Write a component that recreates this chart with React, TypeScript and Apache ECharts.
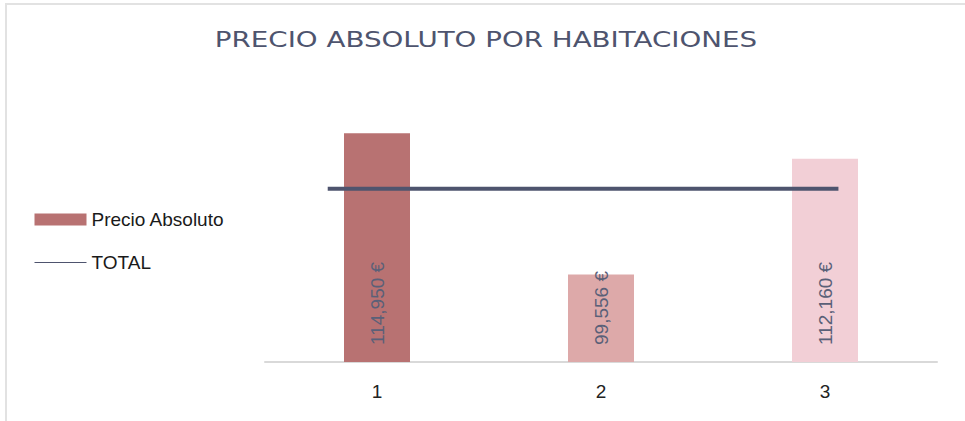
import React, { useEffect, useRef } from "react";
import * as echarts from "echarts";

const categories = ["1", "2", "3"];
const precioValues = [114950, 99556, 112160];
const barColors = ["#B87272", "#DDA9A9", "#F2CFD6"];
const totalValue = 108889;
const totalSpan = [0.28, 2.56];
const titleText = "PRECIO ABSOLUTO POR HABITACIONES";

const SANS = "'Liberation Sans', Arial, sans-serif";

export default function App() {
  const ref = useRef<HTMLDivElement>(null);
  useEffect(() => {
    if (!ref.current) return;
    const chart = echarts.init(ref.current, undefined, { renderer: "svg" });
    const fmt = (v: number) => v.toLocaleString("en-US") + " €";
    chart.setOption({
      animation: false,
      backgroundColor: "#ffffff",
      graphic: [
        {
          type: "text",
          x: 486,
          y: 40,
          scaleX: 1.26,
          style: {
            text: titleText,
            font: "normal 22px 'DejaVu Sans', sans-serif",
            fill: "#4E546E",
            textAlign: "center",
            textVerticalAlign: "middle",
          },
        },
      ],
      legend: {
        orient: "vertical",
        left: 34,
        top: 210,
        padding: 0,
        itemWidth: 52,
        itemHeight: 12,
        itemGap: 24,
        textStyle: { fontFamily: SANS, fontSize: 19, color: "#1a1a1a" },
        lineStyle: { width: 1, color: "#4E546E" },
        data: [
          { name: "Precio Absoluto", icon: "rect", itemStyle: { color: barColors[0] } },
          { name: "TOTAL", itemStyle: { opacity: 0 } },
        ],
      },
      grid: { left: 265, right: 28, top: 87, bottom: 59 },
      xAxis: [
        {
          type: "category",
          data: categories,
          axisLine: { lineStyle: { color: "#D9D9D9", width: 2 } },
          axisTick: { show: false },
          axisLabel: { fontFamily: SANS, fontSize: 19, color: "#222", margin: 20 },
        },
        { type: "value", min: 0, max: 3, show: false },
      ],
      yAxis: {
        type: "value",
        min: 90000,
        max: 120000,
        show: false,
        splitLine: { show: false },
      },
      series: [
        {
          name: "Precio Absoluto",
          type: "bar",
          barWidth: 66,
          data: precioValues.map((v, i) => ({ value: v, itemStyle: { color: barColors[i] } })),
          itemStyle: { color: barColors[0] },
          label: {
            show: true,
            position: "insideBottom",
            rotate: 90,
            align: "left",
            verticalAlign: "middle",
            distance: 17,
            fontFamily: SANS,
            fontSize: 19,
            color: "#5A6078",
            formatter: (p: any) => fmt(p.value),
          },
          z: 2,
        },
        {
          name: "TOTAL",
          type: "line",
          xAxisIndex: 1,
          symbol: "none",
          lineStyle: { color: "#4E546E", width: 4 },
          itemStyle: { color: "#4E546E" },
          data: totalSpan.map((x) => [x, totalValue]),
          z: 3,
        },
      ],
    });
    return () => chart.dispose();
  }, []);
  return (
    <div style={{ position: "fixed", left: 0, top: 0, width: 965, height: 421, background: "#fff" }}>
      <div
        ref={ref}
        style={{ position: "absolute", left: 0, top: 0, width: 965, height: 421 }}
      />
      <div
        style={{
          position: "absolute",
          left: 5,
          top: 3,
          width: 965,
          height: 421,
          borderTop: "2px solid #E2E2E2",
          borderLeft: "2px solid #E2E2E2",
          pointerEvents: "none",
        }}
      />
    </div>
  );
}
